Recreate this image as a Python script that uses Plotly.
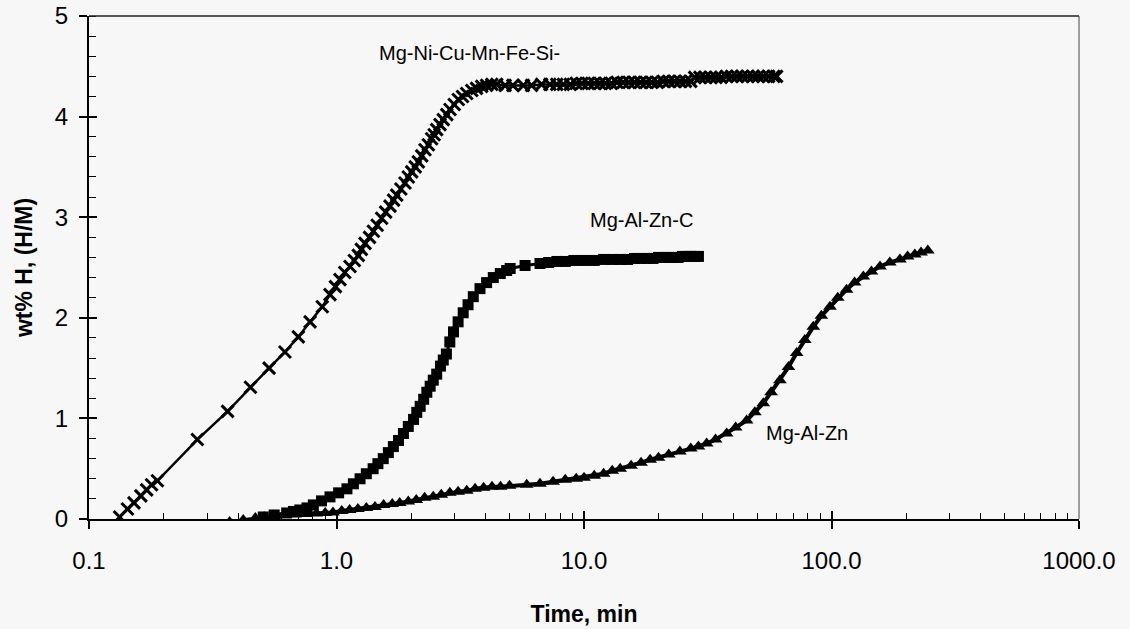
import math
import plotly.graph_objects as go

# ---------------- data ----------------
series_names = ["Mg-Ni-Cu-Mn-Fe-Si-", "Mg-Al-Zn-C", "Mg-Al-Zn"]

t_ni = [0.133, 0.143, 0.152, 0.162, 0.171, 0.179, 0.189, 0.274, 0.363, 0.449,
        0.534, 0.619, 0.701, 0.782, 0.876, 0.941, 0.99, 1.033, 1.08, 1.134,
        1.18, 1.225, 1.26, 1.304, 1.36, 1.409, 1.46, 1.522, 1.58, 1.645,
        1.70, 1.751, 1.82, 1.891, 1.95, 2.013, 2.08, 2.141, 2.21, 2.278,
        2.35, 2.424, 2.48, 2.54, 2.62, 2.70, 2.79, 2.875, 2.99, 3.105,
        3.23, 3.357, 3.52, 3.68, 3.86, 4.04, 4.24, 4.44, 4.8, 5.16,
        5.69, 6.14, 6.74, 7.28, 7.76, 8.25, 8.8, 9.3, 9.8, 10.4,
        11.0, 11.6, 12.2, 12.9, 13.6, 14.4, 15.2, 16.0, 16.9, 17.8,
        18.8, 19.8, 20.9, 22.0, 23.2, 24.4, 25.7, 27.0, 28.0, 29.4,
        30.9, 32.5, 34.1, 35.8, 37.6, 39.5, 41.5, 43.6, 45.8, 48.1,
        50.5, 53.0, 55.7, 58.5, 60.0]
v_ni = [0.02, 0.10, 0.16, 0.23, 0.29, 0.34, 0.38, 0.79, 1.07, 1.31,
        1.50, 1.66, 1.81, 1.96, 2.11, 2.23, 2.31, 2.38, 2.45, 2.51,
        2.57, 2.62, 2.68, 2.74, 2.80, 2.86, 2.92, 2.99, 3.05, 3.11,
        3.17, 3.22, 3.28, 3.34, 3.40, 3.45, 3.50, 3.55, 3.61, 3.67,
        3.72, 3.78, 3.82, 3.87, 3.92, 3.97, 4.02, 4.07, 4.12, 4.17,
        4.20, 4.23, 4.26, 4.28, 4.30, 4.31, 4.32, 4.32, 4.31, 4.31,
        4.31, 4.31, 4.32, 4.32, 4.32, 4.32, 4.32, 4.33, 4.33, 4.33,
        4.33, 4.33, 4.33, 4.33, 4.34, 4.34, 4.34, 4.34, 4.34, 4.34,
        4.34, 4.34, 4.35, 4.35, 4.35, 4.35, 4.35, 4.35, 4.39, 4.39,
        4.39, 4.39, 4.39, 4.39, 4.40, 4.40, 4.40, 4.40, 4.40, 4.40,
        4.40, 4.40, 4.40, 4.40, 4.40]

t_alc = [0.506, 0.56, 0.629, 0.67, 0.711, 0.76, 0.806, 0.87, 0.941, 1.02,
         1.102, 1.17, 1.245, 1.32, 1.406, 1.47, 1.545, 1.62, 1.697, 1.78,
         1.864, 1.95, 2.048, 2.11, 2.178, 2.25, 2.317, 2.39, 2.46, 2.54,
         2.63, 2.70, 2.78, 2.87, 2.97, 3.10, 3.25, 3.40, 3.57, 3.80,
         4.04, 4.30, 4.59, 4.87, 5.03, 5.78, 6.64, 7.20, 7.77, 8.40,
         9.10, 10.0, 11.0, 12.0, 13.0, 14.0, 15.0, 16.0, 17.0, 18.0,
         19.0, 20.0, 21.0, 22.0, 23.0, 24.0, 25.0, 26.0, 27.0, 28.0,
         29.0]
v_alc = [0.02, 0.04, 0.06, 0.075, 0.09, 0.11, 0.14, 0.18, 0.22, 0.26,
         0.30, 0.35, 0.40, 0.45, 0.50, 0.55, 0.60, 0.66, 0.72, 0.78,
         0.85, 0.92, 0.99, 1.06, 1.12, 1.19, 1.26, 1.32, 1.38, 1.44,
         1.52, 1.58, 1.64, 1.76, 1.86, 1.96, 2.05, 2.13, 2.21, 2.29,
         2.35, 2.40, 2.44, 2.47, 2.49, 2.52, 2.54, 2.55, 2.56, 2.56,
         2.57, 2.57, 2.57, 2.58, 2.58, 2.58, 2.58, 2.59, 2.59, 2.59,
         2.59, 2.60, 2.60, 2.60, 2.60, 2.60, 2.61, 2.61, 2.61, 2.61,
         2.61]

t_al = [0.37, 0.42, 0.47, 0.51, 0.56, 0.62, 0.68, 0.75, 0.83, 0.90,
        0.968, 1.05, 1.13, 1.22, 1.32, 1.43, 1.55, 1.68, 1.80, 1.95,
        2.10, 2.27, 2.46, 2.65, 2.87, 3.10, 3.36, 3.63, 3.93, 4.25,
        4.60, 5.00, 5.87, 6.64, 7.50, 8.40, 9.30, 10.0, 11.0, 12.0,
        13.0, 14.0, 15.5, 17.0, 18.5, 20.0, 22.0, 24.4, 27.0, 29.0,
        31.3, 34.0, 37.7, 41.0, 45.4, 49.0, 53.0, 57.0, 61.9, 67.0,
        72.3, 78.0, 84.4, 91.0, 98.6, 106.0, 115.0, 124.0, 134.5, 145.0,
        157.0, 172.0, 189.0, 203.0, 217.0, 230.0, 245.0]
v_al = [-0.03, -0.01, 0.01, 0.02, 0.03, 0.04, 0.045, 0.05, 0.055, 0.06,
        0.065, 0.08, 0.09, 0.10, 0.11, 0.12, 0.14, 0.15, 0.16, 0.175,
        0.19, 0.21, 0.22, 0.24, 0.26, 0.27, 0.28, 0.30, 0.31, 0.32,
        0.32, 0.33, 0.34, 0.35, 0.37, 0.39, 0.40, 0.41, 0.43, 0.45,
        0.48, 0.50, 0.53, 0.56, 0.59, 0.61, 0.64, 0.67, 0.70, 0.72,
        0.75, 0.79, 0.85, 0.91, 0.98, 1.06, 1.15, 1.26, 1.38, 1.51,
        1.65, 1.78, 1.91, 2.02, 2.11, 2.20, 2.28, 2.35, 2.41, 2.46,
        2.51, 2.55, 2.58, 2.61, 2.63, 2.65, 2.67]

x_major_vals = [0.1, 1, 10, 100, 1000]
x_major_text = ["0.1", "1.0", "10.0", "100.0", "1000.0"]
y_major_vals = [0, 1, 2, 3, 4, 5]

# label anchor points (data coordinates: time, value)
label_pos = [(3.46, 4.63), (17.1, 2.97), (79.6, 0.855)]

# ---------------- figure ----------------
BG = "#f7f7f7"
FONT = "Liberation Sans, Arial, sans-serif"

x_minor_vals = [k * 10.0 ** e for e in range(-1, 3) for k in range(2, 10)]

fig = go.Figure()

fig.add_trace(go.Scatter(
    x=t_al, y=v_al, mode="lines+markers", name=series_names[2],
    line=dict(color="black", width=4),
    marker=dict(symbol="triangle-up", size=12, color="black"),
))
fig.add_trace(go.Scatter(
    x=t_alc, y=v_alc, mode="lines+markers", name=series_names[1],
    line=dict(color="black", width=3),
    marker=dict(symbol="square", size=11, color="black"),
))
fig.add_trace(go.Scatter(
    x=t_ni, y=v_ni, mode="lines+markers", name=series_names[0],
    line=dict(color="black", width=2.5),
    marker=dict(symbol="x-thin-open", size=12, color="black",
                line=dict(color="black", width=3)),
))
# empty trace so the overlay axes (inner halves of the major ticks) render
fig.add_trace(go.Scatter(x=[], y=[], xaxis="x2", yaxis="y2",
                         showlegend=False, hoverinfo="skip"))

for (tx, ty), name in zip(label_pos, series_names):
    fig.add_annotation(x=math.log10(tx), y=ty, text=name,
                       showarrow=False, font=dict(size=20, color="black", family=FONT))

fig.update_layout(
    width=1130, height=629,
    margin=dict(l=89, r=51, t=16, b=110, autoexpand=False),
    paper_bgcolor=BG, plot_bgcolor=BG,
    showlegend=False,
    font=dict(family=FONT, color="black"),
    xaxis=dict(
        type="log", range=[-1, 3], automargin=False,
        tickvals=x_major_vals, ticktext=x_major_text,
        ticks="outside", ticklen=8, tickwidth=1.5, tickcolor="black",
        ticklabelstandoff=11,
        tickfont=dict(size=24, color="black"),
        minor=dict(tickvals=x_minor_vals, ticks="inside", ticklen=6,
                   tickwidth=1, tickcolor="black", showgrid=False),
        showgrid=False, zeroline=False,
        showline=True, linecolor="black", linewidth=1.5,
        title=dict(text="<b>Time, min</b>", font=dict(size=23, color="black"),
                   standoff=33),
    ),
    yaxis=dict(
        range=[0, 5], tickvals=y_major_vals, automargin=False,
        ticks="outside", ticklen=8, tickwidth=1.5, tickcolor="black",
        ticklabelstandoff=6,
        tickfont=dict(size=24, color="black"),
        minor=dict(dtick=0.2, ticks="inside", ticklen=7, tickwidth=1,
                   tickcolor="black", showgrid=False),
        showgrid=False, zeroline=False,
        showline=True, linecolor="black", linewidth=2,
        title=dict(text="<b>wt% H, (H/M)</b>", font=dict(size=23, color="black"),
                   standoff=16),
    ),
    xaxis2=dict(
        type="log", range=[-1, 3], overlaying="x", anchor="y", side="bottom",
        tickvals=x_major_vals, ticks="inside", ticklen=8, tickwidth=1.5,
        tickcolor="black", showticklabels=False, showgrid=False,
        zeroline=False, showline=False, automargin=False,
    ),
    yaxis2=dict(
        range=[0, 5], overlaying="y", anchor="x", side="left",
        tickvals=y_major_vals, ticks="inside", ticklen=8, tickwidth=1.5,
        tickcolor="black", showticklabels=False, showgrid=False,
        zeroline=False, showline=False, automargin=False,
    ),
    shapes=[
        dict(type="line", xref="paper", yref="paper", x0=0, x1=1, y0=1, y1=1,
             line=dict(color="#222", width=1.5)),
        dict(type="line", xref="paper", yref="paper", x0=1, x1=1, y0=0, y1=1,
             line=dict(color="#444", width=1)),
    ],
)

fig.write_html("out.html")
